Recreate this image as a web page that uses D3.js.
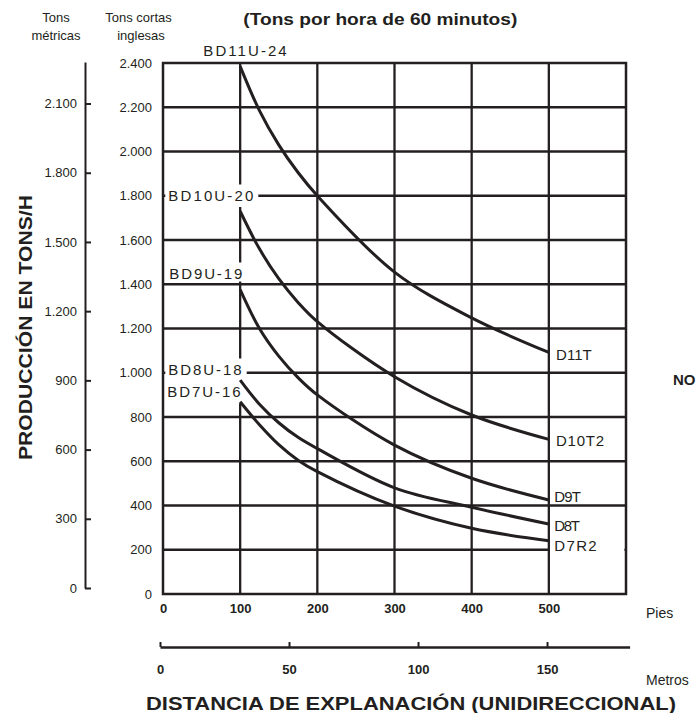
<!DOCTYPE html>
<html><head><meta charset="utf-8">
<script src="https://cdn.jsdelivr.net/npm/d3@7"></script>
<style>
html,body{margin:0;padding:0;background:#fff;}
svg{display:block;font-family:"Liberation Sans",Arial,Helvetica,sans-serif;}
</style></head><body>
<svg id="chart" width="696" height="713"></svg>
<script>
// ---------- DATA ----------
const distancePies = [100, 125, 150, 175, 200, 300, 400, 500];
const seriesStart = ["BD11U-24", "BD10U-20", "BD9U-19", "BD8U-18", "BD7U-16"];
const seriesEnd = ["D11T", "D10T2", "D9T", "D8T", "D7R2"];
const prodD11 = [2385, 2185, 2030, 1905, 1800, 1455, 1248, 1092];
const prodD10 = [1730, 1560, 1425, 1318, 1231, 982, 809, 699];
const prodD9  = [1376, 1200, 1075, 978, 900, 673, 523, 425];
const prodD8  = [967, 858, 774, 708, 657, 480, 392, 316];
const prodD7  = [869, 765, 675, 605, 553, 397, 297, 241];
const shortTonTicks = [0, 200, 400, 600, 800, 1000, 1200, 1400, 1600, 1800, 2000, 2200, 2400];
const metricTicks = [0, 300, 600, 900, 1200, 1500, 1800, 2100];
const piesTicks = [0, 100, 200, 300, 400, 500];
const metrosTicks = [0, 50, 100, 150];

// ---------- LAYOUT ----------
const INK = "#231f20";
const svg = d3.select("#chart");
const x = d3.scaleLinear().domain([0, 600]).range([163, 626]);
const y = d3.scaleLinear().domain([0, 2400]).range([594, 63]);
const yMetric = d3.scaleLinear().domain([0, 2280]).range([588, 62]);
const xMetros = d3.scaleLinear().domain([0, 182]).range([160, 629.6]);
const fmt = d3.formatLocale({decimal: ",", thousands: ".", grouping: [3], currency: ["", ""]}).format(",d");

const series = [prodD11, prodD10, prodD9, prodD8, prodD7].map((vals, i) => ({
  start: seriesStart[i], end: seriesEnd[i],
  pts: distancePies.map((d, j) => [d, vals[j]])
}));

// label placement (pixels)
const startLab = [
  {x: 203.3, b: 56, w: 83.4},
  {x: 168.3, b: 201, w: 85, top: 6, bot: 6},
  {x: 169.3, b: 279, w: 73, top: 6, bot: 2.5},
  {x: 168.3, b: 375, w: 73.4, top: 6, bot: 6},
  {x: 167.3, b: 397.3, w: 73.4, top: 6, bot: 6}
];
const endLab = [
  {x: 556, b: 360, w: 35.7},
  {x: 556, b: 446, w: 48},
  {x: 554.3, b: 501.7, w: 26.7},
  {x: 554.3, b: 530.7, w: 25.7},
  {x: 554.3, b: 550.7, w: 42.4, knock: true}
];

// ---------- GRID ----------
const grid = svg.append("g").attr("stroke", INK).attr("stroke-width", 2.3);
grid.selectAll("line.h").data(shortTonTicks.filter(v => v > 0 && v < 2400)).enter()
  .append("line").attr("class", "h")
  .attr("x1", x(0)).attr("x2", x(600)).attr("y1", d => y(d)).attr("y2", d => y(d));
grid.selectAll("line.v").data(piesTicks.filter(v => v > 0)).enter()
  .append("line").attr("class", "v")
  .attr("x1", d => x(d)).attr("x2", d => x(d)).attr("y1", y(0)).attr("y2", y(2400));

// white knockouts behind labels
const ko = svg.append("g").attr("fill", "#fff");
startLab.forEach((L, i) => {
  if (i === 0) return;
  const x0 = Math.max(L.x - 3, 164.5);
  ko.append("rect").attr("x", x0).attr("y", L.b - 10.5 - L.top)
    .attr("width", L.x + L.w + 5 - x0).attr("height", 10.5 + L.top + L.bot);
});
endLab.filter(L => L.knock).forEach(L => {
  ko.append("rect").attr("x", 550).attr("y", L.b - 13.5)
    .attr("width", 624.5 - 550).attr("height", 16.5);
});

// border
svg.append("rect").attr("x", x(0)).attr("y", y(2400))
  .attr("width", x(600) - x(0)).attr("height", y(0) - y(2400))
  .attr("fill", "none").attr("stroke", INK).attr("stroke-width", 2.5);

// ---------- AXES ----------
const yAx = svg.append("g").attr("transform", `translate(${x(0)},0)`)
  .call(d3.axisLeft(y).tickValues(shortTonTicks).tickFormat(fmt).tickSize(0).tickPadding(11));
yAx.select(".domain").remove();
yAx.selectAll("text").attr("font-size", 13).attr("fill", INK).attr("font-family", null);

const mAx = svg.append("g").attr("transform", "translate(85,0)")
  .call(d3.axisLeft(yMetric).tickValues(metricTicks).tickFormat(fmt).tickSizeInner(-6).tickSizeOuter(0).tickPadding(8));
mAx.select(".domain").attr("stroke", INK).attr("stroke-width", 2);
mAx.selectAll(".tick line").attr("stroke", INK).attr("stroke-width", 2);
mAx.selectAll("text").attr("font-size", 13).attr("fill", INK).attr("font-family", null);

const pAx = svg.append("g").attr("transform", `translate(0,${y(0)})`)
  .call(d3.axisBottom(x).tickValues(piesTicks).tickSize(0).tickPadding(9.5));
pAx.select(".domain").remove();
pAx.selectAll("text").attr("font-size", 13).attr("font-weight", "bold").attr("fill", INK).attr("font-family", null);

const meAx = svg.append("g").attr("transform", "translate(0,647)")
  .call(d3.axisBottom(xMetros).tickValues(metrosTicks).tickSizeInner(-5).tickSizeOuter(0).tickPadding(17.5));
meAx.select(".domain").attr("stroke", INK).attr("stroke-width", 2.5);
meAx.selectAll(".tick line").attr("stroke", INK).attr("stroke-width", 2);
meAx.selectAll("text").attr("font-size", 13).attr("font-weight", "bold").attr("fill", INK).attr("font-family", null);

// ---------- CURVES ----------
const line = d3.line().x(d => x(d[0])).y(d => y(d[1])).curve(d3.curveCatmullRom.alpha(0.5));
svg.append("g").selectAll("path").data(series).enter().append("path")
  .attr("d", d => line(d.pts)).attr("fill", "none")
  .attr("stroke", INK).attr("stroke-width", 3).attr("stroke-linecap", "butt");

// ---------- LABELS ----------
const labs = svg.append("g").attr("font-size", 15).attr("fill", INK);
series.forEach((s, i) => {
  labs.append("text").attr("x", startLab[i].x).attr("y", startLab[i].b)
    .attr("textLength", startLab[i].w).attr("lengthAdjust", "spacing").text(s.start);
  labs.append("text").attr("x", endLab[i].x).attr("y", endLab[i].b)
    .attr("textLength", endLab[i].w).attr("lengthAdjust", "spacing").text(s.end);
});

const t = svg.append("g").attr("fill", INK);
t.append("text").attr("x", 56).attr("y", 21.7).attr("text-anchor", "middle").attr("font-size", 13).text("Tons");
t.append("text").attr("x", 56).attr("y", 40).attr("text-anchor", "middle").attr("font-size", 13).text("métricas");
t.append("text").attr("x", 138.5).attr("y", 21.7).attr("text-anchor", "middle").attr("font-size", 13).text("Tons cortas");
t.append("text").attr("x", 141).attr("y", 40).attr("text-anchor", "middle").attr("font-size", 13).text("inglesas");
t.append("text").attr("x", 243.3).attr("y", 25).attr("font-size", 17).attr("font-weight", "bold")
  .attr("textLength", 274).attr("lengthAdjust", "spacingAndGlyphs").text("(Tons por hora de 60 minutos)");
t.append("text").attr("transform", "translate(31.5,327.5) rotate(-90)").attr("text-anchor", "middle")
  .attr("font-size", 19).attr("font-weight", "bold")
  .attr("textLength", 265).attr("lengthAdjust", "spacingAndGlyphs").text("PRODUCCIÓN EN TONS/H");
t.append("text").attr("x", 146).attr("y", 710).attr("font-size", 19).attr("font-weight", "bold")
  .attr("textLength", 530).attr("lengthAdjust", "spacingAndGlyphs").text("DISTANCIA DE EXPLANACIÓN (UNIDIRECCIONAL)");
t.append("text").attr("x", 646).attr("y", 618).attr("font-size", 14).text("Pies");
t.append("text").attr("x", 646).attr("y", 685).attr("font-size", 14).text("Metros");
t.append("text").attr("x", 673).attr("y", 385).attr("font-size", 15).attr("font-weight", "bold").text("NO");
</script>
</body></html>
